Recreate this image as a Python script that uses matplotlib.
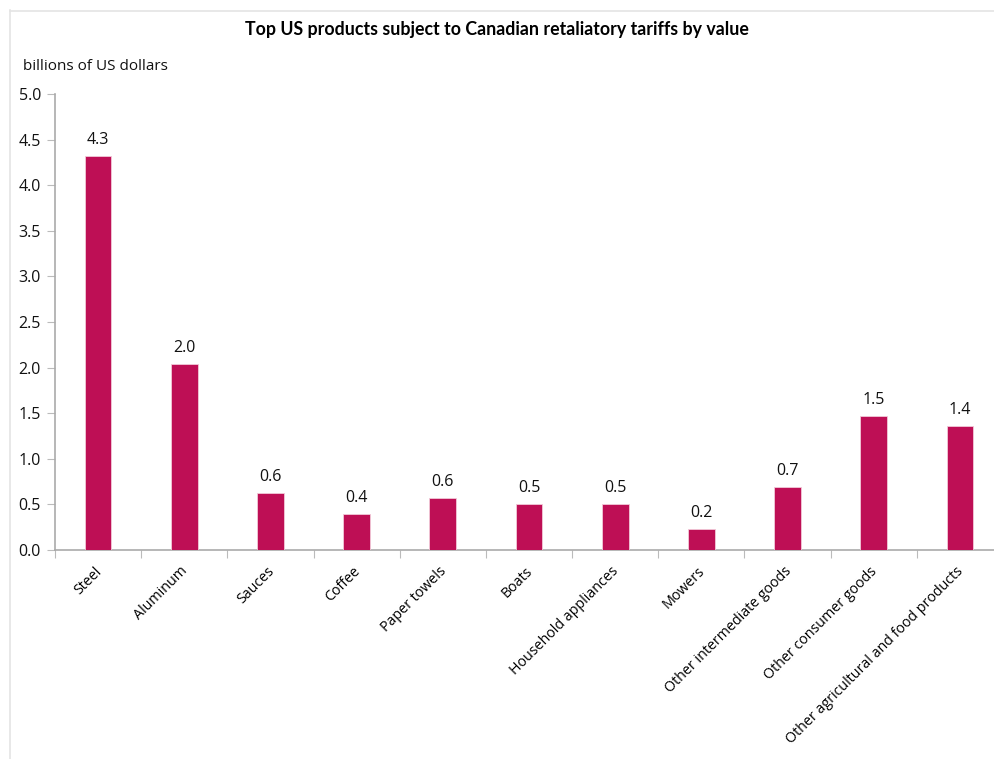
import matplotlib
matplotlib.use("Agg")
import matplotlib.pyplot as plt
from matplotlib.lines import Line2D
import matplotlib.transforms as mtransforms
import numpy as np

categories = ["Steel", "Aluminum", "Sauces", "Coffee", "Paper towels", "Boats",
              "Household appliances", "Mowers", "Other intermediate goods",
              "Other consumer goods", "Other agricultural and food products"]
values = [4.32, 2.04, 0.625, 0.395, 0.57, 0.505, 0.505, 0.23, 0.69, 1.47, 1.36]
labels = ["4.3", "2.0", "0.6", "0.4", "0.6", "0.5", "0.5", "0.2", "0.7", "1.5", "1.4"]
yticks = [0.0, 0.5, 1.0, 1.5, 2.0, 2.5, 3.0, 3.5, 4.0, 4.5, 5.0]

W, H = 995, 759
fig = plt.figure(figsize=(W / 100, H / 100), dpi=100)
font = "Open Sans"

# faint border lines (top and left)
fig.add_artist(Line2D([10 / W, 1], [1 - 10.5 / H, 1 - 10.5 / H], color="#e4e4e4", lw=1.2))
fig.add_artist(Line2D([10.5 / W, 10.5 / W], [0, 1 - 10 / H], color="#e4e4e4", lw=1.2))

left, right, top, bottom = 55, 1003, 94, 550
ax = fig.add_axes([left / W, 1 - bottom / H, (right - left) / W, (bottom - top) / H])

x = np.arange(len(categories))
color = "#BE0F55"
ax.bar(x, values, width=0.31, color=color, edgecolor="#f2c9d8", linewidth=0.6, zorder=3)
for xi, v, lab in zip(x, values, labels):
    ax.text(xi, v + 0.09, lab, ha="center", va="bottom", fontsize=11.5, family=font, color="#111111")

ax.set_xlim(-0.5, len(categories) - 0.5)
ax.set_ylim(0, 5)
ax.set_yticks(yticks)
ax.set_yticklabels([f"{t:.1f}" for t in yticks], family=font, fontsize=11.5)

ax.set_xticks(np.arange(len(categories) + 1) - 0.5)
ax.set_xticklabels([])
ax.set_xticks(x, minor=True)
ax.set_xticklabels(categories, minor=True, rotation=45, ha="right", rotation_mode="anchor",
                   family=font, fontsize=10.3)
ax.tick_params(axis="x", which="minor", length=0, pad=10)
ax.tick_params(axis="x", which="major", length=6, color="#bbbbbb", direction="out")
ax.tick_params(axis="y", length=6, color="#bbbbbb", direction="out", pad=4, labelcolor="#111111")
offset = mtransforms.ScaledTranslation(-4 / 100, 0, fig.dpi_scale_trans)
for lbl in ax.get_xticklabels(minor=True):
    lbl.set_transform(lbl.get_transform() + offset)

for s in ["top", "right"]:
    ax.spines[s].set_visible(False)
for s in ["left", "bottom"]:
    ax.spines[s].set_color("#aaaaaa")
    ax.spines[s].set_linewidth(1.2)

fig.text(497 / W, 1 - 30 / H, "Top US products subject to Canadian retaliatory tariffs by value",
         ha="center", va="center", fontsize=12.8, fontweight="bold", family="Lato")
fig.text(23 / W, 1 - 67 / H, "billions of US dollars", ha="left", va="center",
         fontsize=11, family=font, color="#111111")

fig.savefig("out.png", dpi=100)
